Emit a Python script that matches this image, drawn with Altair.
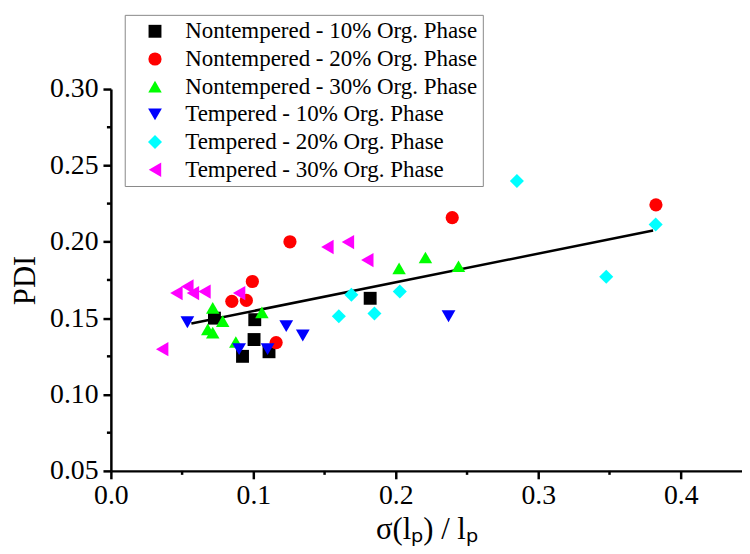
import altair as alt
import pandas as pd

series_names = [
    "Nontempered - 10% Org. Phase",
    "Nontempered - 20% Org. Phase",
    "Nontempered - 30% Org. Phase",
    "Tempered - 10% Org. Phase",
    "Tempered - 20% Org. Phase",
    "Tempered - 30% Org. Phase",
]
series_colors = ["#000000", "#FF0000", "#00FF00", "#0000FF", "#00FFFF", "#FF00FF"]
series_shapes = ["square", "circle", "triangle-up", "triangle-down", "diamond", "triangle-left"]
series_sizes = [170, 210, 330, 330, 360, 330]

nt10_x = [0.0727, 0.101, 0.1005, 0.0924, 0.111, 0.182]
nt10_y = [0.150, 0.149, 0.136, 0.125, 0.128, 0.163]
nt20_x = [0.0993, 0.0849, 0.0951, 0.116, 0.1257, 0.2396, 0.3826]
nt20_y = [0.174, 0.161, 0.1616, 0.134, 0.200, 0.2158, 0.2242]
nt30_x = [0.0715, 0.0785, 0.068, 0.0715, 0.106, 0.0877, 0.2023, 0.2208, 0.244]
nt30_y = [0.1567, 0.148, 0.1426, 0.1405, 0.1538, 0.1344, 0.1826, 0.1897, 0.184]
t10_x = [0.0537, 0.090, 0.110, 0.1231, 0.1347, 0.237]
t10_y = [0.1473, 0.1297, 0.1297, 0.1448, 0.1387, 0.1512]
t20_x = [0.160, 0.1688, 0.185, 0.2028, 0.285, 0.3477, 0.3824]
t20_y = [0.1512, 0.1653, 0.153, 0.1674, 0.2398, 0.1771, 0.2113]
t30_x = [0.036, 0.046, 0.0537, 0.0576, 0.0657, 0.090, 0.152, 0.1664, 0.180]
t30_y = [0.1297, 0.1664, 0.1707, 0.1664, 0.1674, 0.1664, 0.1966, 0.1998, 0.188]

fit_x = [0.0565, 0.3806]
fit_y = [0.1465, 0.2074]

x_ticks = [0.0, 0.1, 0.2, 0.3, 0.4]
x_minor = [0.05, 0.15, 0.25, 0.35]
y_ticks = [0.05, 0.10, 0.15, 0.20, 0.25, 0.30]
y_minor = [0.075, 0.125, 0.175, 0.225, 0.275]

all_x = [nt10_x, nt20_x, nt30_x, t10_x, t20_x, t30_x]
all_y = [nt10_y, nt20_y, nt30_y, t10_y, t20_y, t30_y]
rows = []
for i, (xs, ys) in enumerate(zip(all_x, all_y)):
    for xv, yv in zip(xs, ys):
        rows.append({"x": xv, "y": yv, "series": series_names[i], "order": i})
points_df = pd.DataFrame(rows)
fit_df = pd.DataFrame({"x": fit_x, "y": fit_y})

W, H = 638, 386
FONT = "Liberation Serif"

xscale = alt.Scale(domain=[0, 0.443], nice=False, zero=False)
yscale = alt.Scale(domain=[0.05, 0.30], nice=False, zero=False)

xaxis = alt.Axis(values=x_ticks, format=".1f", title="σ(lₚ) / lₚ", grid=False,
                 labelFlush=False, labelOverlap=False,
                 tickSize=8, tickWidth=2.5, domainWidth=2.5, domainColor="black",
                 tickColor="black", labelFont=FONT, labelFontSize=28, labelColor="black",
                 labelPadding=3, titleFont=FONT, titleFontSize=31, titleFontWeight="normal",
                 titleColor="black", titlePadding=5)
yaxis = alt.Axis(values=y_ticks, format=".2f", title="PDI", grid=False,
                 labelFlush=False, labelOverlap=False,
                 tickSize=8, tickWidth=2.5, domainWidth=2.5, domainColor="black",
                 tickColor="black", labelFont=FONT, labelFontSize=28, labelColor="black",
                 labelPadding=5, titleFont=FONT, titleFontSize=31, titleFontWeight="normal",
                 titleColor="black", titlePadding=8)

legend = alt.Legend(title=None, orient="none", legendX=14, legendY=-75,
                    strokeColor="#888888", fillColor="white", padding=5,
                    symbolOffset=14, labelOffset=19, labelFont=FONT, labelFontSize=23.2,
                    labelColor="black", labelLimit=0, rowPadding=4, symbolStrokeWidth=0)

line = alt.Chart(fit_df).mark_line(color="black", strokeWidth=2.5).encode(
    x=alt.X("x:Q", scale=xscale, axis=xaxis),
    y=alt.Y("y:Q", scale=yscale, axis=yaxis),
)

pts = alt.Chart(points_df).mark_point(filled=True, opacity=1, strokeWidth=0).encode(
    x=alt.X("x:Q", scale=xscale, axis=xaxis),
    y=alt.Y("y:Q", scale=yscale, axis=yaxis),
    color=alt.Color("series:N", scale=alt.Scale(domain=series_names, range=series_colors),
                    legend=legend),
    shape=alt.Shape("series:N", scale=alt.Scale(domain=series_names, range=series_shapes),
                    legend=legend),
    size=alt.Size("series:N", scale=alt.Scale(domain=series_names, range=series_sizes),
                  legend=legend),
    order=alt.Order("order:Q"),
)

xminor_df = pd.DataFrame({"x": x_minor})
yminor_df = pd.DataFrame({"y": y_minor})
xm = alt.Chart(xminor_df).mark_rule(color="black", strokeWidth=2.5).encode(
    x=alt.X("x:Q", scale=xscale, axis=xaxis),
    y=alt.value(H), y2=alt.value(H + 4),
)
ym = alt.Chart(yminor_df).mark_rule(color="black", strokeWidth=2.5).encode(
    y=alt.Y("y:Q", scale=yscale, axis=yaxis),
    x=alt.value(0), x2=alt.value(-4),
)

chart = alt.layer(line, pts, xm, ym).properties(
    width=W, height=H,
    autosize=alt.AutoSizeParams(type="none"),
    padding={"left": 104, "top": 79, "right": 0, "bottom": 73},
).configure(background="white").configure_view(stroke=None, strokeWidth=0)

chart.save("out.html", embed_options={"renderer": "svg", "actions": False})
